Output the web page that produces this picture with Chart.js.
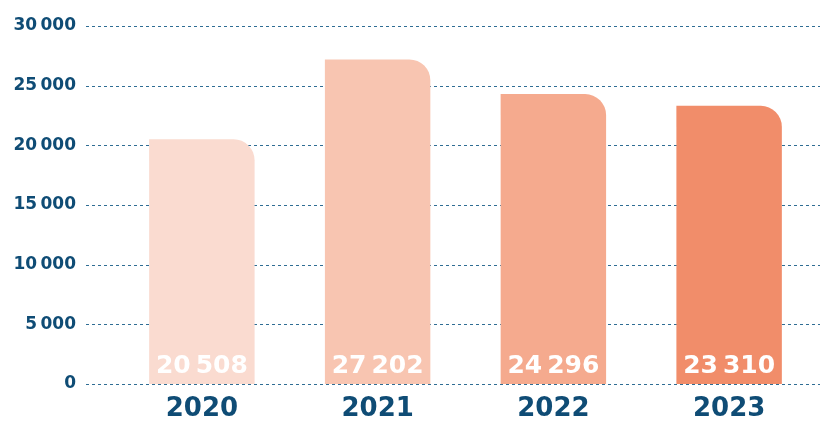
<!DOCTYPE html>
<html>
<head>
<meta charset="utf-8">
<script src="https://cdn.jsdelivr.net/npm/chart.js@4/dist/chart.umd.min.js"></script>
<style>
html,body{margin:0;padding:0;background:#fff;overflow:hidden;}
#wrap{width:820px;height:421px;position:relative;}
</style>
</head>
<body>
<div id="wrap"><canvas id="c"></canvas></div>
<script>
const categories = ['2020', '2021', '2022', '2023'];
const values = [20508, 27202, 24296, 23310];
const barColors = ['#fadbd0', '#f8c5b1', '#f5aa8e', '#f18d6a'];
const yTicks = [0, 5000, 10000, 15000, 20000, 25000, 30000];

const FONT = '"DejaVu Sans", sans-serif';
const BLUE = '#0f4c75';
const GRID = '#2f6d94';

function fmt(v) {
  return String(v).replace(/\B(?=(\d{3})+(?!\d))/g, '\u202F');
}

const gridPlugin = {
  id: 'dashGrid',
  beforeDatasetsDraw(chart) {
    const ctx = chart.ctx, y = chart.scales.y;
    ctx.save();
    ctx.strokeStyle = GRID;
    ctx.lineWidth = 1;
    ctx.setLineDash([3, 3]);
    yTicks.forEach(t => {
      const py = Math.round(y.getPixelForValue(t)) + 0.5;
      ctx.beginPath();
      ctx.moveTo(86, py);
      ctx.lineTo(820, py);
      ctx.stroke();
    });
    ctx.restore();
  }
};

const labelPlugin = {
  id: 'barLabels',
  afterDatasetsDraw(chart) {
    const ctx = chart.ctx, meta = chart.getDatasetMeta(0);
    const y0 = chart.scales.y.getPixelForValue(0);
    ctx.save();
    ctx.fillStyle = '#ffffff';
    ctx.font = 'bold 25px ' + FONT;
    ctx.textAlign = 'center';
    ctx.textBaseline = 'alphabetic';
    meta.data.forEach((bar, i) => {
      ctx.fillText(fmt(values[i]), bar.x, y0 - 11);
    });
    ctx.restore();
  }
};

new Chart(document.getElementById('c'), {
  type: 'bar',
  data: {
    labels: categories,
    datasets: [{
      data: values,
      backgroundColor: barColors,
      borderWidth: 0,
      borderRadius: { topRight: 21, topLeft: 0, bottomLeft: 0, bottomRight: 0 },
      borderSkipped: false,
      barPercentage: 1,
      categoryPercentage: 0.6
    }]
  },
  options: {
    responsive: true,
    maintainAspectRatio: false,
    animation: false,
    devicePixelRatio: 1,
    layout: { padding: { top: 26, right: 3, bottom: 0, left: 0 } },
    plugins: { legend: { display: false }, tooltip: { enabled: false } },
    scales: {
      x: {
        grid: { display: false, drawTicks: false },
        border: { display: false },
        ticks: { color: BLUE, font: { family: FONT, size: 26, weight: 'bold' }, padding: 10 },
        afterFit(s) { s.height = 37; s.paddingLeft = 0; s.paddingRight = 0; }
      },
      y: {
        min: 0, max: 30000,
        grid: { display: false, drawTicks: false },
        border: { display: false },
        afterBuildTicks(s) { s.ticks = yTicks.map(v => ({ value: v })); },
        ticks: {
          color: BLUE,
          font: { family: FONT, size: 17, weight: 'bold' },
          padding: 38,
          callback: v => fmt(v)
        },
        afterFit(s) { s.width = 114; s.paddingTop = 0; s.paddingBottom = 0; }
      }
    }
  },
  plugins: [gridPlugin, labelPlugin]
});
</script>
</body>
</html>
